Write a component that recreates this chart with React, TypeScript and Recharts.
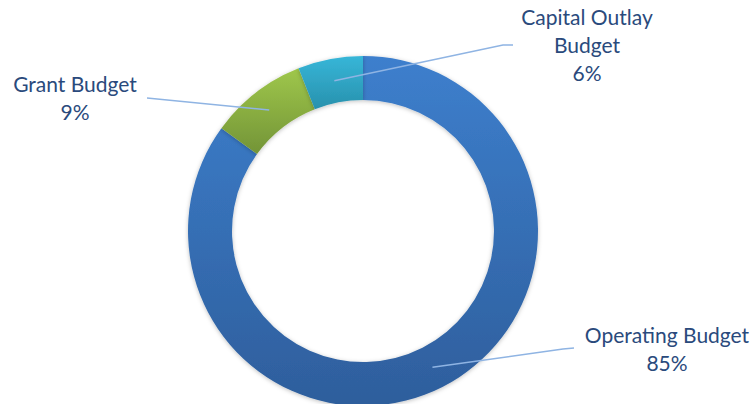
import React from "react";
import { Cell, Pie, PieChart } from "recharts";

const categories = ["Operating Budget", "Grant Budget", "Capital Outlay Budget"];
const shares = [85, 9, 6];
// label text split into lines, as drawn in the original
const labelLines = [["Operating Budget"], ["Grant Budget"], ["Capital Outlay", "Budget"]];

const data = categories.map((name, i) => ({ name, value: shares[i] }));

const GRADIENTS = [
  { id: "gOp", top: "#3d7fcd", bottom: "#2e5e9c" },
  { id: "gGr", top: "#9fc74b", bottom: "#739437" },
  { id: "gCap", top: "#37b6d8", bottom: "#2891ad" },
];

// where each label block sits (centre x, first baseline y) and where its leader line ends
const LABEL_LAYOUT = [
  { x: 667, y: 343, end: [574, 348], elbow: [563, 349] },
  { x: 75, y: 92, end: [147, 98], elbow: null },
  { x: 587, y: 25, end: [513, 45], elbow: [503, 45] },
];

const TEXT = "#2a4a7c";
const LEADER = "#8fb4e3";
const RADIAN = Math.PI / 180;

function renderLabel(props: any) {
  const { cx, cy, midAngle, innerRadius, outerRadius, percent, index } = props;
  const r = (innerRadius + outerRadius) / 2;
  const ax = cx + r * Math.cos(-midAngle * RADIAN);
  const ay = cy + r * Math.sin(-midAngle * RADIAN);
  const lay = LABEL_LAYOUT[index];
  const pts = [[ax, ay]];
  if (lay.elbow) pts.push(lay.elbow);
  pts.push(lay.end);
  const lines = [...labelLines[index], `${Math.round(percent * 100)}%`];
  return (
    <g key={`lbl-${index}`}>
      <polyline
        points={pts.map((p) => p.join(",")).join(" ")}
        fill="none"
        stroke={LEADER}
        strokeWidth={1.5}
      />
      <text
        x={lay.x}
        y={lay.y}
        textAnchor="middle"
        fill={TEXT}
        style={{ fontFamily: "Lato, sans-serif", fontSize: 21 }}
      >
        {lines.map((t, k) => (
          <tspan key={k} x={lay.x} dy={k === 0 ? 0 : 28}>
            {t}
          </tspan>
        ))}
      </text>
    </g>
  );
}

export default function App() {
  return (
    <div style={{ position: "absolute", left: 0, top: 0, width: 751, height: 404, background: "#fff" }}>
      <PieChart width={751} height={404} margin={{ top: 0, right: 0, bottom: 0, left: 0 }}>
        <defs>
          {GRADIENTS.map((g) => (
            <linearGradient key={g.id} id={g.id} x1="0" y1="0" x2="0" y2="1">
              <stop offset="0%" stopColor={g.top} />
              <stop offset="100%" stopColor={g.bottom} />
            </linearGradient>
          ))}
          <filter id="shadow" x="-10%" y="-10%" width="120%" height="120%">
            <feDropShadow dx="0" dy="1" stdDeviation="2" floodColor="#000" floodOpacity="0.25" />
          </filter>
        </defs>
        <Pie
          data={data}
          dataKey="value"
          nameKey="name"
          cx={363}
          cy={231}
          innerRadius={131}
          outerRadius={175}
          startAngle={90}
          endAngle={-270}
          stroke="none"
          labelLine={false}
          label={renderLabel}
          isAnimationActive={false}
          style={{ filter: "url(#shadow)" }}
        >
          {data.map((d, i) => (
            <Cell key={d.name} fill={`url(#${GRADIENTS[i].id})`} />
          ))}
        </Pie>
      </PieChart>
    </div>
  );
}
